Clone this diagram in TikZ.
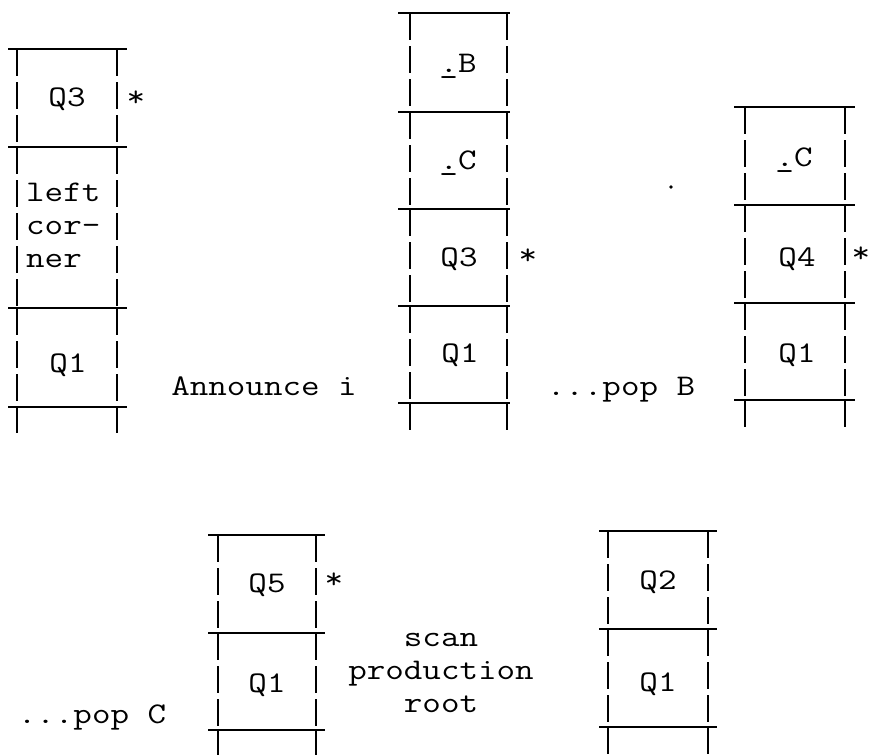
\documentclass[tikz,border=0pt]{standalone}
\usepackage{fontspec}
\usepackage{graphicx}
\newcommand\drawstk[6]{%
  \foreach \yy in {#5} {\draw[hline] (#1,\yy) -- (#2,\yy);}
  \foreach \ya/\yb in {#6} {\draw[side] (#3,\ya) -- (#3,\yb); \draw[side] (#4,\ya) -- (#4,\yb);}
}
\newcommand\sx[1]{\scalebox{1.2}[1]{#1}}
\newcommand\udot{\makebox[0pt][l]{\_}.}
\begin{document}
\begin{tikzpicture}[x=1pt,y=-1pt,
  txt/.style={font=\ttfamily\fontsize{30}{33}\selectfont, inner sep=0pt, anchor=base},
  hline/.style={line width=2.1pt},
  side/.style={line width=1.7pt, dash pattern=on 27pt off 6pt}]
\useasboundingbox (0,0) rectangle (870,755);
% stacks
\drawstk{8}{127}{17}{117}{49,147,308,407}{49/147,147/308,308/407,407/433}
\drawstk{398}{510}{410}{507}{13,112,209,306,403}{13/112,112/209,209/306,306/403,403/430}
\drawstk{734}{855}{745}{845}{107,205,303,400}{107/205,205/303,303/400,400/427}
\drawstk{208}{325}{218}{316}{535,633,730}{535/633,633/730,730/755}
\drawstk{599}{717}{608}{708}{531,629,727}{531/629,629/727,727/755}
% stack 1
\node[txt] (a3) at (67,106) {\sx{Q3}};
\node[txt] (a3s) at (136,106) {\sx{*}};
\node[txt,anchor=base west] (al1) at (26,201) {\sx{left}};
\node[txt,anchor=base west] (al2) at (26,234) {\sx{cor-}};
\node[txt,anchor=base west] (al3) at (26,267) {\sx{ner}};
\node[txt] (a1) at (68,372) {\sx{Q1}};
% stack 2
\node[txt] (bB) at (458,72) {\sx{\udot B}};
\node[txt] (bC) at (458,169) {\sx{\udot C}};
\node[txt] (b3) at (459,266) {\sx{Q3}};
\node[txt] (b3s) at (528,264) {\sx{*}};
\node[txt] (b1) at (460,362) {\sx{Q1}};
% stack 3
\node[txt] (cC) at (794,166) {\sx{\udot C}};
\node[txt] (c4) at (797,266) {\sx{Q4}};
\node[txt] (c4s) at (861,262) {\sx{*}};
\node[txt] (c1) at (797,362) {\sx{Q1}};
% stack 4
\node[txt] (d5) at (267,592) {\sx{Q5}};
\node[txt] (d5s) at (334,588) {\sx{*}};
\node[txt] (d1) at (267,692) {\sx{Q1}};
% stack 5
\node[txt] (e2) at (658,589) {\sx{Q2}};
\node[txt] (e1) at (658,691) {\sx{Q1}};
% labels
\node[txt] (l1) at (264,395) {\sx{Announce i}};
\node[txt] (l2) at (621,395) {\sx{...pop B}};
\node[txt] (l3) at (92,723) {\sx{...pop C}};
\node[txt] (l4) at (441,646) {\sx{scan}};
\node[txt] (l5) at (441,679) {\sx{production}};
\node[txt] (l6) at (441,712) {\sx{root}};
\fill (671,187) circle (1.8pt);
\end{tikzpicture}
\end{document}
